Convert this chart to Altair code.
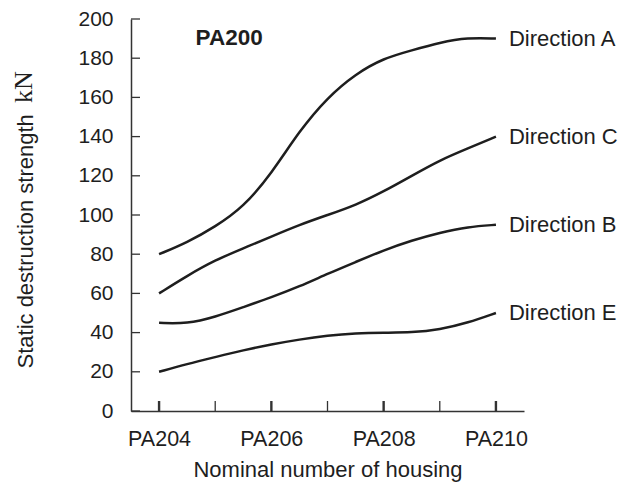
import altair as alt
import pandas as pd

# ---- data ----
x_pos = [204, 204.5, 205, 205.5, 206, 206.5, 207, 207.5, 208, 208.5, 209, 209.5, 210]
dir_a = [80, 86, 94, 104, 121, 143, 160, 172, 180, 184, 188, 190.5, 190]
dir_c = [60, 69, 77, 83, 89, 95, 100, 105, 112, 120, 128, 134, 140]
dir_b = [45, 44.5, 48, 53, 58, 63.5, 70, 76, 82, 87, 91, 94, 95]
dir_e = [20, 24, 27.5, 31, 34, 36.5, 38.5, 39.7, 40, 40, 41.5, 45, 50]
series_names = ["Direction A", "Direction C", "Direction B", "Direction E"]
x_label_values = [204, 206, 208, 210]
x_major_ticks = [204, 206, 208, 210]
x_minor_ticks = [205, 207, 209]
y_ticks = [0, 20, 40, 60, 80, 100, 120, 140, 160, 180, 200]
panel_title = "PA200"
panel_title_pos = [204.65, 190.5]

rows = []
for name, vals in zip(series_names, [dir_a, dir_c, dir_b, dir_e]):
    for xv, yv in zip(x_pos, vals):
        rows.append({"series": name, "x": xv, "y": yv})
df = pd.DataFrame(rows)
ends = df[df["x"] == x_pos[-1]]

W, H = 393, 392
FONT = "Liberation Sans"
INK = "#1e1e1e"
AX = "#333333"

xscale = alt.Scale(domain=[203.5, 210.5], nice=False, zero=False)
yscale = alt.Scale(domain=[0, 200], nice=False)

xaxis = alt.Axis(
    values=x_label_values,
    labelExpr="'PA' + datum.value",
    title="Nominal number of housing",
    ticks=False, tickSize=0, grid=False,
    domainColor=AX, domainWidth=1.5,
    labelFont=FONT, labelFontSize=21.5, labelColor=INK, labelPadding=17,
    labelFlush=False, labelOverlap=False,
    titleFont=FONT, titleFontSize=22, titleFontWeight="normal", titleColor=INK,
    titleY=48, titleBaseline="top",
)
yaxis = alt.Axis(
    values=y_ticks,
    title="Static destruction strength",
    ticks=False, tickSize=0, grid=False,
    domainColor=AX, domainWidth=1.5,
    labelFont=FONT, labelFontSize=21, labelColor=INK, labelPadding=18,
    labelFlush=False, labelOverlap=False,
    titleFont=FONT, titleFontSize=22, titleFontWeight="normal", titleColor=INK,
    titleAngle=270, titleAlign="left", titleBaseline="alphabetic",
    titleX=-99, titleY=349,
)

def X(field="x"):
    return alt.X(f"{field}:Q", scale=xscale, axis=xaxis)

def Y(field="y"):
    return alt.Y(f"{field}:Q", scale=yscale, axis=yaxis)

lines = alt.Chart(df).mark_line(
    color=INK, strokeWidth=2.5, interpolate="basis"
).encode(x=X(), y=Y(), detail="series:N")

labels = alt.Chart(ends).mark_text(
    align="left", baseline="middle", dx=13, font=FONT, fontSize=22, color=INK
).encode(x=X(), y=Y(), text="series:N")

title_df = pd.DataFrame({"x": [panel_title_pos[0]], "y": [panel_title_pos[1]], "t": [panel_title]})
title_mark = alt.Chart(title_df).mark_text(
    align="left", baseline="middle", font=FONT, fontSize=22.5, fontWeight="bold", color=INK
).encode(x=X(), y=Y(), text="t:N")

unit_df = pd.DataFrame({"t": ["kN"]})
unit_mark = alt.Chart(unit_df).mark_text(
    align="left", baseline="alphabetic", angle=270, font="Liberation Serif",
    fontSize=26, color=INK
).encode(x=alt.value(-99), y=alt.value(84), text="t:N")

ytick_df = pd.DataFrame({"y": y_ticks})
ytick_marks = alt.Chart(ytick_df).mark_rule(color=AX, strokeWidth=1.3).encode(
    y=Y(), x=alt.value(0), x2=alt.value(9)
)
xmaj_df = pd.DataFrame({"x": x_major_ticks})
xmaj_marks = alt.Chart(xmaj_df).mark_rule(color=AX, strokeWidth=2.4).encode(
    x=X(), y=alt.value(H), y2=alt.value(H - 10)
)
xmin_df = pd.DataFrame({"x": x_minor_ticks})
xmin_marks = alt.Chart(xmin_df).mark_rule(color=AX, strokeWidth=1.3).encode(
    x=X(), y=alt.value(H), y2=alt.value(H - 10)
)

chart = alt.layer(
    lines, ytick_marks, xmaj_marks, xmin_marks, labels, title_mark, unit_mark
).properties(
    width=W, height=H,
    autosize=alt.AutoSizeParams(type="none"),
    padding={"left": 123, "top": 11, "right": 100, "bottom": 76},
).configure_view(stroke=None)

chart.save("out.html", embed_options={"renderer": "svg", "actions": False})
